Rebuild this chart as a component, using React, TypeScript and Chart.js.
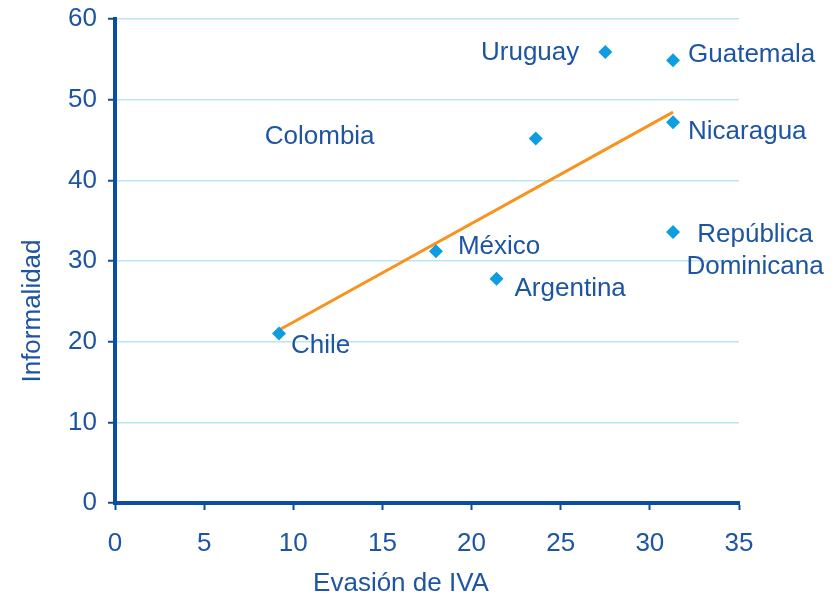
import { useEffect, useRef } from "react";
import { Chart, registerables } from "chart.js";

Chart.register(...registerables);

// ---- data ----
const countries = [
  "Chile",
  "México",
  "Argentina",
  "Colombia",
  "Uruguay",
  "Guatemala",
  "Nicaragua",
  "República Dominicana",
];
const evasionIVA = [9.2, 18.0, 21.4, 23.6, 27.5, 31.3, 31.3, 31.3];
const informalidad = [21.0, 31.2, 27.8, 45.2, 55.9, 54.9, 47.2, 33.6];
const trendX = [9.0, 31.3];
const trendY = [21.2, 48.45];
const xTickValues = [0, 5, 10, 15, 20, 25, 30, 35];
const yTickValues = [0, 10, 20, 30, 40, 50, 60];
const xTitle = "Evasión de IVA";
const yTitle = "Informalidad";

// ---- label layout (pixel offsets from each point) ----
const labelLayout: { dx: number; dy: number; align: CanvasTextAlign; lines: string[] }[] = [
  { dx: 12, dy: 12, align: "left", lines: ["Chile"] },
  { dx: 22, dy: -4, align: "left", lines: ["México"] },
  { dx: 18, dy: 10, align: "left", lines: ["Argentina"] },
  { dx: -271, dy: -2, align: "left", lines: ["Colombia"] },
  { dx: -26, dy: 1, align: "right", lines: ["Uruguay"] },
  { dx: 15, dy: -5, align: "left", lines: ["Guatemala"] },
  { dx: 15, dy: 10, align: "left", lines: ["Nicaragua"] },
  { dx: 82, dy: 3, align: "center", lines: ["República", "Dominicana"] },
];

const TEXT = "#1D55A3";
const AXIS = "#0B4DA2";
const POINT = "#0E9EDF";
const TREND = "#F7931E";
const GRID = "#B8E6F4";
const FONT = "'Liberation Sans', Arial, sans-serif";

export default function App() {
  const ref = useRef<HTMLCanvasElement | null>(null);

  useEffect(() => {
    if (!ref.current) return;
    const labelsPlugin = {
      id: "labelsPlugin",
      afterDraw(chart: any) {
        const ctx = chart.ctx as CanvasRenderingContext2D;
        const xs = chart.scales.x;
        const ys = chart.scales.y;
        ctx.save();
        ctx.fillStyle = TEXT;
        ctx.font = `26px ${FONT}`;
        ctx.textBaseline = "middle";
        countries.forEach((_, i) => {
          const px = xs.getPixelForValue(evasionIVA[i]);
          const py = ys.getPixelForValue(informalidad[i]);
          const l = labelLayout[i];
          ctx.textAlign = l.align;
          l.lines.forEach((line, j) => {
            ctx.fillText(line, px + l.dx, py + l.dy + j * 32);
          });
        });
        // axis titles
        ctx.textAlign = "center";
        ctx.textBaseline = "alphabetic";
        ctx.fillText(xTitle, 401, 591);
        ctx.save();
        ctx.translate(40, 311);
        ctx.rotate(-Math.PI / 2);
        ctx.fillText(yTitle, 0, 0);
        ctx.restore();
        ctx.restore();
      },
    };

    const chart = new Chart(ref.current, {
      type: "scatter",
      data: {
        datasets: [
          {
            label: "Países",
            data: countries.map((_, i) => ({ x: evasionIVA[i], y: informalidad[i] })),
            pointStyle: "rectRot",
            pointRadius: 7,
            backgroundColor: POINT,
            borderWidth: 0,
            order: 1,
          },
          {
            label: "Tendencia",
            data: trendX.map((x, i) => ({ x, y: trendY[i] })),
            showLine: true,
            pointRadius: 0,
            borderColor: TREND,
            borderWidth: 3,
            order: 2,
          },
        ],
      },
      options: {
        responsive: false,
        animation: false,
        layout: { padding: { left: 0, top: 19, right: 99, bottom: 0 } },
        plugins: {
          legend: { display: false },
          tooltip: { enabled: false },
        },
        scales: {
          x: {
            type: "linear",
            min: 0,
            max: 35,
            afterBuildTicks: (s: any) => {
              s.ticks = xTickValues.map((v) => ({ value: v }));
            },
            afterFit: (s: any) => {
              s.height = 91;
              s.paddingLeft = 0;
              s.paddingRight = 0;
            },
            border: { display: true, color: AXIS, width: 4 },
            grid: {
              drawOnChartArea: false,
              drawTicks: true,
              tickLength: 7,
              tickColor: AXIS,
              tickWidth: 2,
            },
            ticks: {
              color: TEXT,
              font: { family: FONT, size: 26 },
              padding: 18,
              maxRotation: 0,
            },
          },
          y: {
            type: "linear",
            min: 0,
            max: 60,
            afterBuildTicks: (s: any) => {
              s.ticks = yTickValues.map((v) => ({ value: v }));
            },
            afterFit: (s: any) => {
              s.width = 115;
              s.paddingTop = 0;
              s.paddingBottom = 0;
            },
            border: { display: true, color: AXIS, width: 4 },
            grid: {
              color: GRID,
              lineWidth: 1.5,
              drawTicks: true,
              tickLength: 7,
              tickColor: AXIS,
              tickWidth: 2,
            },
            ticks: {
              color: TEXT,
              font: { family: FONT, size: 26 },
              padding: 11,
            },
          },
        },
      },
      plugins: [labelsPlugin],
    } as any);

    return () => chart.destroy();
  }, []);

  return (
    <div style={{ position: "fixed", left: 0, top: 0, width: 838, height: 594, background: "#fff" }}>
      <canvas ref={ref} width={838} height={594} style={{ width: 838, height: 594 }} />
    </div>
  );
}
